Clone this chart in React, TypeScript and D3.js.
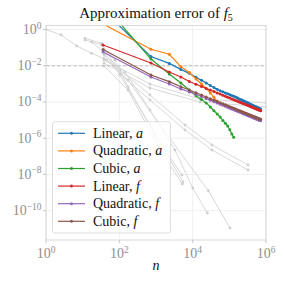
import React from "react";
import * as d3 from "d3";

// n = number of sample points for the coloured series
const nValues = [36, 729, 2304, 4761, 8100, 12321, 17424, 23409, 30276, 38025, 46656, 56169, 66564, 77841, 90000, 103041, 116964, 131769, 147456, 164025, 181476, 199809, 219024, 239121, 260100, 281961, 304704, 328329, 352836, 378225, 404496, 431649, 459684, 488601, 518400, 549081, 580644, 613089, 646416, 680625, 715716];

const linearA = [12.0, 3.2e-2, 1.35e-2, 6.3e-3, 3.8e-3, 2.33e-3, 1.56e-3, 1.11e-3, 8.2e-4, 6.3e-4, 4.97e-4, 4.17e-4, 3.62e-4, 3.18e-4, 2.82e-4, 2.53e-4, 2.28e-4, 2.07e-4, 1.87e-4, 1.69e-4, 1.53e-4, 1.39e-4, 1.28e-4, 1.17e-4, 1.08e-4, 1.0e-4, 9.29e-5, 8.65e-5, 8.05e-5, 7.53e-5, 7.06e-5, 6.64e-5, 6.25e-5, 5.89e-5, 5.56e-5, 5.26e-5, 4.98e-5, 4.72e-5, 4.49e-5, 4.28e-5, 4.07e-5];
const quadraticA = [2.0, 8.1e-2, 4.3e-2, 8.9e-3, 4.2e-3, 1.86e-3, 9.8e-4, 5.5e-4, 3.16e-4, 1.82e-4, 1.07e-4];
const cubicA = [26, 2.34e-2, 3.47e-3, 1.12e-3, 4.58e-4, 2.22e-4, 1.39e-4, 8.89e-5, 5.28e-5, 3.3e-5, 2.2e-5, 1.47e-5, 9.62e-6, 6.65e-6, 4.72e-6, 2.92e-6, 1.69e-6, 1.12e-6];
const linearF = [1.4e-1, 1.41e-2, 4.47e-3, 2.4e-3, 1.35e-3, 9.53e-4, 7.16e-4, 5.61e-4, 4.53e-4, 3.75e-4, 3.17e-4, 2.72e-4, 2.36e-4, 2.07e-4, 1.84e-4, 1.64e-4, 1.48e-4, 1.34e-4, 1.22e-4, 1.12e-4, 1.03e-4, 9.51e-5, 8.83e-5, 8.18e-5, 7.66e-5, 7.16e-5, 6.71e-5, 6.31e-5, 5.94e-5, 5.61e-5, 5.31e-5, 5.04e-5, 4.78e-5, 4.54e-5, 4.33e-5, 4.12e-5, 3.94e-5, 3.76e-5, 3.6e-5, 3.45e-5, 3.31e-5];
const quadraticF = [5.73e-2, 2.4e-3, 9.77e-4, 5.25e-4, 3.55e-4, 2.68e-4, 2.01e-4, 1.57e-4, 1.26e-4, 1.05e-4, 8.82e-5, 7.59e-5, 6.6e-5, 5.78e-5, 5.13e-5, 4.58e-5, 4.12e-5, 3.74e-5, 3.39e-5, 3.11e-5, 2.86e-5, 2.64e-5, 2.45e-5, 2.27e-5, 2.12e-5, 1.98e-5, 1.86e-5, 1.75e-5, 1.65e-5, 1.56e-5, 1.46e-5, 1.39e-5, 1.32e-5, 1.26e-5, 1.2e-5, 1.14e-5, 1.09e-5, 1.04e-5, 9.9e-6, 9.49e-6, 9.15e-6];
const cubicF = [7.87e-2, 3.09e-3, 1.32e-3, 6.92e-4, 4.57e-4, 3.22e-4, 2.42e-4, 1.89e-4, 1.52e-4, 1.26e-4, 1.06e-4, 9.12e-5, 7.93e-5, 6.95e-5, 6.17e-5, 5.51e-5, 4.95e-5, 4.49e-5, 4.08e-5, 3.74e-5, 3.44e-5, 3.17e-5, 2.94e-5, 2.73e-5, 2.55e-5, 2.38e-5, 2.23e-5, 2.1e-5, 1.98e-5, 1.87e-5, 1.76e-5, 1.67e-5, 1.59e-5, 1.51e-5, 1.44e-5, 1.37e-5, 1.31e-5, 1.25e-5, 1.19e-5, 1.14e-5, 1.1e-5];

// faded background curves (other functions)
const grayN1 = [1, 2.6, 6.9, 17.6, 45.2, 104, 686, 6180, 33650, 322800];
const grayE1 = [1, 0.497, 0.123, 0.0486, 0.0207, 5.82e-3, 2.43e-4, 5.37e-6, 4.23e-7, 3.33e-8];
const grayN2 = [11.6, 33, 104, 686, 6180, 33650, 322800];
const grayE2 = [0.327, 0.173, 3.5e-3, 1.29e-4, 2.84e-6, 2.24e-7, 1.76e-8];
const grayN3 = [11.6, 33, 76.2, 172, 938, 5115];
const grayE3 = [0.263, 0.14, 0.0207, 6.7e-4, 1.51e-6, 9.33e-9];
const grayN4 = [17.6, 38.2, 104, 686, 5445];
const grayE4 = [0.204, 0.0573, 3.08e-3, 5.37e-6, 3.84e-9];
const grayN5 = [38.2, 143, 686, 3296, 10020, 25060];
const grayE5 = [0.0392, 4.52e-3, 3.61e-5, 2.24e-7, 1.79e-9, 7.46e-11];
const grayN6 = [38.2, 172, 1285, 26690, 104200];
const grayE6 = [0.0267, 1.63e-3, 5.37e-6, 1.27e-9, 1.11e-11];
const grayN7 = [38.2, 686, 15850, 1e6];
const grayE7 = [0.0207, 9.8e-4, 1.46e-4, 8.79e-5];
const grayN8 = [38.2, 686, 15850, 1e6];
const grayE8 = [0.01417, 5.9e-4, 9.97e-5, 5.28e-5];
const grayN9 = [38.2, 172, 1285, 5212];
const grayE9 = [9.7e-3, 4.58e-4, 2.24e-7, 2.98e-9];

const xTicks = [1, 1e2, 1e4, 1e6];
const xTickExp = ["0", "2", "4", "6"];
const yTicks = [1, 1e-2, 1e-4, 1e-6, 1e-8, 1e-10];
const yTickExp = ["0", "\u22122", "\u22124", "\u22126", "\u22128", "\u221210"];
const threshold = 1e-2;

const seriesNames = ["Linear", "Quadratic", "Cubic", "Linear", "Quadratic", "Cubic"];
const seriesVars = ["a", "a", "a", "f", "f", "f"];
const seriesColors = ["#1f77b4", "#ff7f0e", "#2ca02c", "#d62728", "#9467bd", "#8c564b"];
const seriesData = [linearA, quadraticA, cubicA, linearF, quadraticF, cubicF];

export default function App() {
  const left = 46, right = 266, top = 25.5, bottom = 240;
  const x = d3.scaleLog().domain([1, 1e6]).range([left, right]);
  const y = d3.scaleLog().domain([Math.pow(10, -11.617), Math.pow(10, 0.2208)]).range([bottom, top]);
  const line = d3.line<[number, number]>().x((d) => x(d[0])).y((d) => y(d[1]));

  const grays: [number, number][][] = [
    [grayN1, grayE1], [grayN2, grayE2], [grayN3, grayE3], [grayN4, grayE4], [grayN5, grayE5],
    [grayN6, grayE6], [grayN7, grayE7], [grayN8, grayE8], [grayN9, grayE9],
  ].map(([ns, es]) => ns.map((n, i) => [n, es[i]] as [number, number]));

  const colored = seriesData.map((vals) => vals.map((v, i) => [nValues[i], v] as [number, number]));

  const font = "'Liberation Serif', 'Times New Roman', serif";
  const legX = 52.5, legY = 121.7, legW = 118, legH = 111.3, rowH = 17.6;

  return (
    <svg width={284} height={284} style={{ position: "absolute", left: 0, top: 0, background: "#fff" }} fontFamily={font}>
      <defs>
        <clipPath id="plot">
          <rect x={left} y={top} width={right - left} height={bottom - top} />
        </clipPath>
      </defs>
      {/* grid */}
      {xTicks.map((t, i) => (
        <line key={"gx" + i} x1={x(t)} x2={x(t)} y1={top} y2={bottom} stroke="#ececec" strokeWidth={0.8} />
      ))}
      {yTicks.map((t, i) => (
        <line key={"gy" + i} x1={left} x2={right} y1={y(t)} y2={y(t)} stroke="#ececec" strokeWidth={0.8} />
      ))}
      <g clipPath="url(#plot)">
        {grays.map((pts, i) => (
          <g key={"g" + i}>
            <path d={line(pts) || ""} fill="none" stroke="#d8d8d8" strokeWidth={1} />
            {pts.map((p, j) => (
              <circle key={j} cx={x(p[0])} cy={y(p[1])} r={1.4} fill="#cfcfcf" />
            ))}
          </g>
        ))}
        <line x1={left} x2={right} y1={y(threshold)} y2={y(threshold)} stroke="#b0b0b0" strokeWidth={0.8} strokeDasharray="3.5,2" />
        {colored.map((pts, i) => (
          <g key={"c" + i}>
            <path d={line(pts) || ""} fill="none" stroke={seriesColors[i]} strokeWidth={1.2} />
            {pts.map((p, j) => (
              <circle key={j} cx={x(p[0])} cy={y(p[1])} r={1.5} fill={seriesColors[i]} />
            ))}
          </g>
        ))}
      </g>
      {/* spines */}
      <rect x={left} y={top} width={right - left} height={bottom - top} fill="none" stroke="#cfcfcf" strokeWidth={0.8} />
      {/* ticks */}
      {xTicks.map((t, i) => (
        <g key={"xt" + i}>
          <line x1={x(t)} x2={x(t)} y1={bottom} y2={bottom + 3} stroke="#bbb" strokeWidth={0.8} />
          <text x={x(t)} y={258} textAnchor="middle" fontSize={14} fill="#8f8f8f">
            10<tspan dy={-5.5} fontSize={9.5}>{xTickExp[i]}</tspan>
          </text>
        </g>
      ))}
      {yTicks.map((t, i) => (
        <g key={"yt" + i}>
          <line x1={left - 3} x2={left} y1={y(t)} y2={y(t)} stroke="#bbb" strokeWidth={0.8} />
          <text x={41.5} y={y(t) + 4.5} textAnchor="end" fontSize={14} fill="#8f8f8f">
            10<tspan dy={-5.5} fontSize={9.5}>{yTickExp[i]}</tspan>
          </text>
        </g>
      ))}
      {/* legend */}
      <rect x={legX} y={legY} width={legW} height={legH} rx={2.5} fill="#fff" fillOpacity={0.8} stroke="#d6d6d6" strokeWidth={0.8} />
      {seriesNames.map((nm, i) => {
        const cy = legY + 11.6 + i * rowH;
        return (
          <g key={"l" + i}>
            <line x1={58} x2={85} y1={cy} y2={cy} stroke={seriesColors[i]} strokeWidth={1.2} />
            <circle cx={71.5} cy={cy} r={1.5} fill={seriesColors[i]} />
            <text x={93} y={cy + 4.5} fontSize={14} fill="#111">
              {nm}, <tspan fontStyle="italic">{seriesVars[i]}</tspan>
            </text>
          </g>
        );
      })}
      {/* title and label */}
      <text x={(left + right) / 2} y={18} textAnchor="middle" fontSize={15} fill="#111">
        Approximation error of <tspan fontStyle="italic">f</tspan>
        <tspan dy={3} fontSize={10}>5</tspan>
      </text>
      <text x={(left + right) / 2} y={270} textAnchor="middle" fontSize={14} fontStyle="italic" fill="#111">
        n
      </text>
    </svg>
  );
}
